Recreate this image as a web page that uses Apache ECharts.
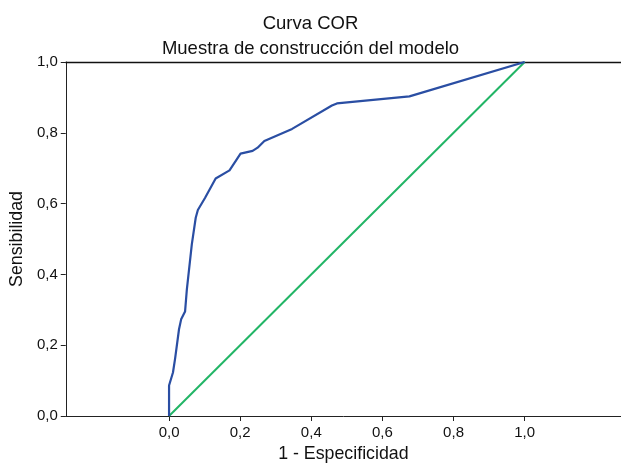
<!DOCTYPE html>
<html>
<head>
<meta charset="utf-8">
<script src="https://cdn.jsdelivr.net/npm/echarts@6/dist/echarts.min.js"></script>
<style>html,body{margin:0;padding:0;background:#fff}#c{width:621px;height:468px}</style>
</head>
<body>
<div id="c"></div>
<script>
var titleText = 'Curva COR';
var subtitleText = 'Muestra de construcción del modelo';
var xName = '1 - Especificidad';
var yName = 'Sensibilidad';
var tickValues = [0, 0.2, 0.4, 0.6, 0.8, 1.0];
// ROC curve points: 1 - especificidad, sensibilidad
var rocX = [0, 0, 0.011, 0.017, 0.028, 0.034, 0.045, 0.050, 0.064, 0.075, 0.081, 0.101, 0.131, 0.170, 0.201, 0.235, 0.249, 0.268, 0.346, 0.458, 0.472, 0.676, 1.0];
var rocY = [0, 0.086, 0.123, 0.162, 0.245, 0.273, 0.295, 0.357, 0.485, 0.560, 0.582, 0.616, 0.671, 0.694, 0.741, 0.749, 0.758, 0.777, 0.811, 0.877, 0.883, 0.903, 1.0];
// Reference line
var refX = [0, 1];
var refY = [0, 1];

function zip(a, b) { return a.map(function (v, i) { return [v, b[i]]; }); }
function fmt(v) { return v.toFixed(1).replace('.', ','); }

var font = '"Liberation Sans", Arial, Helvetica, sans-serif';
var chart = echarts.init(document.getElementById('c'), null, { renderer: 'canvas' });
chart.setOption({
  animation: false,
  backgroundColor: '#fff',
  title: [
    { text: titleText, left: 'center', top: 9, textStyle: { fontFamily: font, fontSize: 18.5, fontWeight: 'normal', color: '#111' } },
    { text: subtitleText, left: 'center', top: 34, textStyle: { fontFamily: font, fontSize: 18.5, fontWeight: 'normal', color: '#111' } }
  ],
  grid: { left: 62, right: 0, top: 62, bottom: 47, containLabel: false },
  xAxis: [{
    type: 'value',
    min: -0.2905,
    max: 1.2709,
    name: xName,
    nameLocation: 'middle',
    nameGap: 29,
    nameTextStyle: { fontFamily: font, fontSize: 17.8, color: '#111' },
    axisLine: { show: true, onZero: false, lineStyle: { color: '#222', width: 1 } },
    axisTick: { show: true, length: 5, customValues: tickValues, lineStyle: { color: '#222' } },
    axisLabel: { customValues: tickValues, formatter: fmt, margin: 9, fontFamily: font, fontSize: 15, color: '#111' },
    splitLine: { show: false }
  }, {
    type: 'value',
    position: 'top',
    min: -0.2905,
    max: 1.2709,
    axisLine: { show: true, onZero: false, lineStyle: { color: '#111', width: 1.3 } },
    axisTick: { show: false },
    axisLabel: { show: false },
    splitLine: { show: false }
  }],
  yAxis: {
    type: 'value',
    min: 0,
    max: 1,
    interval: 0.2,
    name: yName,
    nameLocation: 'middle',
    nameGap: 34,
    nameTextStyle: { fontFamily: font, fontSize: 17.8, color: '#111' },
    axisLine: { show: true, onZero: false, lineStyle: { color: '#222', width: 1 } },
    axisTick: { show: true, length: 5, lineStyle: { color: '#222' } },
    axisLabel: { formatter: fmt, margin: 8, fontFamily: font, fontSize: 15, color: '#111' },
    splitLine: { show: false }
  },
  series: [
    { type: 'line', data: zip(refX, refY), symbol: 'none', lineStyle: { color: '#22b566', width: 2 }, z: 2 },
    { type: 'line', data: zip(rocX, rocY), symbol: 'none', smooth: false, lineStyle: { color: '#2a4ea3', width: 2.2, join: 'round' }, z: 3 }
  ]
});
</script>
</body>
</html>
